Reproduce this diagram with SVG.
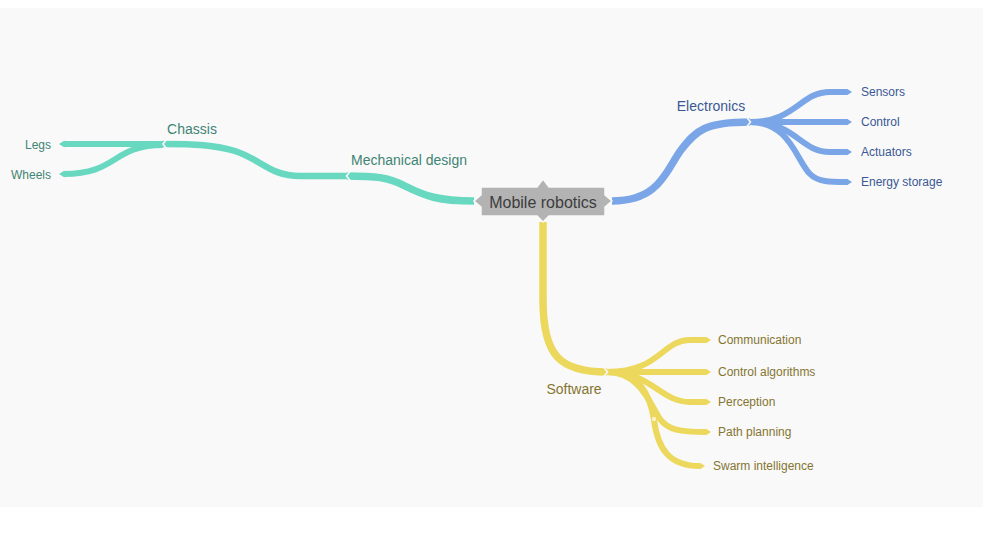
<svg xmlns="http://www.w3.org/2000/svg" width="983" height="538" viewBox="0 0 983 538">
  <defs>
    <marker id="tip-teal" markerUnits="userSpaceOnUse" markerWidth="6" markerHeight="8" viewBox="0 0 6 8" refX="0.5" refY="4" orient="auto">
      <path d="M0,0.5 L5.5,4 L0,7.5 z" fill="#68d8c0"/>
    </marker>
    <marker id="tip-blue" markerUnits="userSpaceOnUse" markerWidth="6" markerHeight="8" viewBox="0 0 6 8" refX="0.5" refY="4" orient="auto">
      <path d="M0,0.5 L5.5,4 L0,7.5 z" fill="#7aa6e8"/>
    </marker>
    <marker id="tip-yellow" markerUnits="userSpaceOnUse" markerWidth="6" markerHeight="8" viewBox="0 0 6 8" refX="0.5" refY="4" orient="auto">
      <path d="M0,0.5 L5.5,4 L0,7.5 z" fill="#ecd85c"/>
    </marker>
  </defs>
  <style>
    .br { fill: none; stroke-linecap: butt; stroke-linejoin: round; }
    .teal { stroke: #68d8c0; }
    .blue { stroke: #7aa6e8; }
    .yellow { stroke: #ecd85c; }
    .main { stroke-width: 7.5; }
    .sub { stroke-width: 6.5; }
    .leaf { stroke-width: 6; }
    .teal.leaf { marker-end: url(#tip-teal); }
    .blue.leaf { marker-end: url(#tip-blue); }
    .yellow.leaf { marker-end: url(#tip-yellow); }
    .notch { fill: none; stroke: #f9f9f9; stroke-width: 1.6; stroke-linejoin: miter; }
    text { font-family: "Liberation Sans", Arial, sans-serif; }
    .t-teal { fill: #3f8474; }
    .t-blue { fill: #3a5894; }
    .t-yellow { fill: #857530; }
    .l1 { font-size: 14px; text-anchor: middle; }
    .l2 { font-size: 12px; }
  </style>

  <!-- canvas -->
  <rect x="0" y="8" width="983" height="499" fill="#f9f9f9"/>

  <!-- branches -->
  <g id="connectors">
    <!-- mechanical side -->
    <path class="br teal main" d="M474,201 C438,201 425,196 405,186 C388,177 375,176 347,176"/>
    <path class="br teal sub" d="M347,176 L300,176 C270,176 262,160 235,151 C215,145 195,144 163,144"/>
    <path class="br teal leaf" d="M163,144 L64,144"/>
    <path class="br teal leaf" d="M163,145 C112,145 118,174 64,174"/>
    <!-- electronics side -->
    <path class="br blue main" d="M612,201 C660,201 666,170 681,150 C696,130 706,122 750,122"/>
    <path class="br blue leaf" d="M750,122 C796,122 800,92 830,92 L847,92"/>
    <path class="br blue leaf" d="M750,122 L847,122"/>
    <path class="br blue leaf" d="M750,122 C796,122 800,152 830,152 L847,152"/>
    <path class="br blue leaf" d="M750,122 C790,122 796,160 810,174 C818,182 830,182 847,182"/>
    <!-- software side -->
    <path class="br yellow main" d="M543,222 L543,300 C543,356 560,372 607,372"/>
    <path class="br yellow leaf" d="M607,372 C660,372 662,340 690,340 L706,340"/>
    <path class="br yellow leaf" d="M607,372 L706,372"/>
    <path class="br yellow leaf" d="M607,372 C652,372 660,402 690,402 L706,402"/>
    <path class="br yellow leaf" d="M607,372 C640,372 650,404 660,419 C668,430 680,432 706,432"/>
    <path class="br yellow leaf" d="M607,372 C640,372 650,395 654,420 C658,450 670,466 700,466"/>
    <circle cx="654" cy="419" r="2.2" fill="#fbf3c8"/>
    <!-- joints between segments -->
    <polyline class="notch" points="350,171.5 346.5,176 350,180.5"/>
    <polyline class="notch" points="166.5,139.5 163,144 166.5,148.5"/>
    <polyline class="notch" points="747,117.5 750.5,122 747,126.5"/>
    <polyline class="notch" points="604,367.5 607.5,372 604,376.5"/>
  </g>

  <!-- root -->
  <g id="node-root">
    <path d="M481,187 L537,187 L543,179 L549,187 L605,187 L605,195 L612,201 L605,207 L605,216 L549,216 L543,222 L537,216 L481,216 L481,207 L474,201 L481,195 Z" fill="#b3b3b3" stroke="#f9f9f9" stroke-width="1.5" stroke-linejoin="miter"/>
    <text x="543" y="207.5" font-size="16" text-anchor="middle" fill="#3d3d3d">Mobile robotics</text>
  </g>

  <!-- mechanical -->
  <g id="node-mechanical-design"><text class="l1 t-teal" x="409" y="165">Mechanical design</text></g>
  <g id="node-chassis"><text class="l1 t-teal" x="192" y="134">Chassis</text></g>
  <g id="node-legs"><text class="l2 t-teal" x="51" y="149" text-anchor="end">Legs</text></g>
  <g id="node-wheels"><text class="l2 t-teal" x="51" y="178.5" text-anchor="end">Wheels</text></g>

  <!-- electronics -->
  <g id="node-electronics"><text class="l1 t-blue" x="711" y="111">Electronics</text></g>
  <g id="node-sensors"><text class="l2 t-blue" x="861" y="96">Sensors</text></g>
  <g id="node-control"><text class="l2 t-blue" x="861" y="126">Control</text></g>
  <g id="node-actuators"><text class="l2 t-blue" x="861" y="156">Actuators</text></g>
  <g id="node-energy-storage"><text class="l2 t-blue" x="861" y="186">Energy storage</text></g>

  <!-- software -->
  <g id="node-software"><text class="l1 t-yellow" x="574" y="394">Software</text></g>
  <g id="node-communication"><text class="l2 t-yellow" x="718" y="344">Communication</text></g>
  <g id="node-control-algorithms"><text class="l2 t-yellow" x="718" y="376">Control algorithms</text></g>
  <g id="node-perception"><text class="l2 t-yellow" x="718" y="406">Perception</text></g>
  <g id="node-path-planning"><text class="l2 t-yellow" x="718" y="436">Path planning</text></g>
  <g id="node-swarm-intelligence"><text class="l2 t-yellow" x="713" y="470">Swarm intelligence</text></g>
</svg>
